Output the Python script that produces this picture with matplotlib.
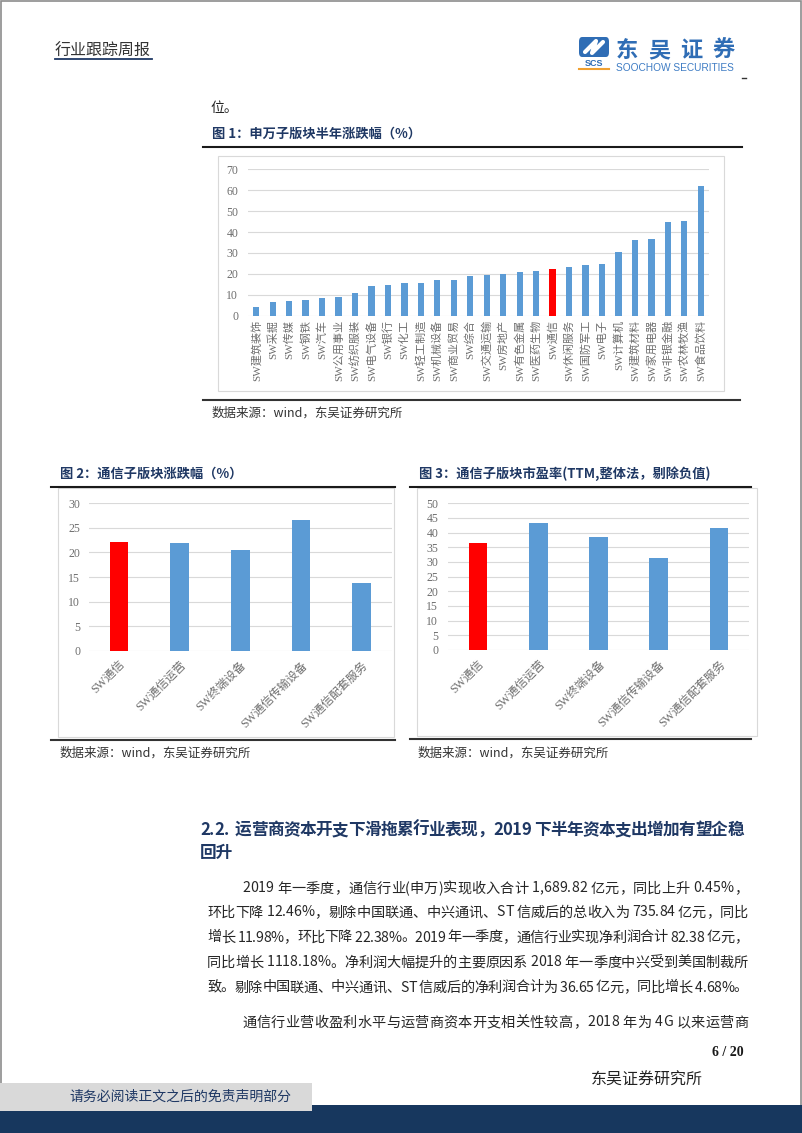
import matplotlib
matplotlib.use("Agg")
import matplotlib.pyplot as plt
from matplotlib.patches import Rectangle, FancyBboxPatch
from matplotlib.lines import Line2D
from matplotlib import font_manager
from matplotlib.font_manager import FontProperties
import matplotlib.ft2font as ft

# ---------------- data ----------------
fig1_categories = ["SW建筑装饰", "SW采掘", "SW传媒", "SW钢铁", "SW汽车", "SW公用事业", "SW纺织服装",
                   "SW电气设备", "SW银行", "SW化工", "SW轻工制造", "SW机械设备", "SW商业贸易", "SW综合",
                   "SW交通运输", "SW房地产", "SW有色金属", "SW医药生物", "SW通信", "SW休闲服务",
                   "SW国防军工", "SW电子", "SW计算机", "SW建筑材料", "SW家用电器", "SW非银金融",
                   "SW农林牧渔", "SW食品饮料"]
fig1_values = [4.0, 6.5, 7.2, 7.7, 8.5, 8.9, 10.8, 14.0, 14.8, 15.5, 15.5, 17.2, 17.2, 19.1,
               19.3, 19.9, 20.9, 21.4, 22.2, 23.1, 24.1, 24.7, 30.6, 36.2, 36.5, 44.8, 45.3, 62.0]
fig1_yticks = [0, 10, 20, 30, 40, 50, 60, 70]

sub_categories = ["SW通信", "SW通信运营", "SW终端设备", "SW通信传输设备", "SW通信配套服务"]
fig2_values = [22.1, 21.9, 20.4, 26.5, 13.8]
fig2_yticks = [0, 5, 10, 15, 20, 25, 30]
fig3_values = [36.3, 43.4, 38.5, 31.5, 41.7]
fig3_yticks = [0, 5, 10, 15, 20, 25, 30, 35, 40, 45, 50]
highlight = "SW通信"

BLUE = "#5B9BD5"
RED = "#FF0000"
NAVY = "#1F3864"
BAND = "#17375E"
GRID = "#D9D9D9"
TICK = "#6E6E6E"
TXT = "#262626"

W, H = 802, 1133
fig = plt.figure(figsize=(W / 100, H / 100), dpi=100)
fig.patch.set_facecolor("white")

CJK = "Noto Sans CJK SC"
TICKFAM = ["Liberation Serif", CJK]


def fx(x):
    return x / W


def fy(y):
    return 1 - y / H


def hline(x0, x1, y, color="#1a1a1a", lw=1.5):
    fig.add_artist(Line2D([fx(x0), fx(x1)], [fy(y), fy(y)], color=color, lw=lw,
                          transform=fig.transFigure))


def box(x0, y0, x1, y1, ec=GRID, fc="none", lw=0.8, z=0):
    fig.add_artist(Rectangle((fx(x0), fy(y1)), (x1 - x0) / W, (y1 - y0) / H,
                             transform=fig.transFigure, ec=ec, fc=fc, lw=lw, zorder=z))


def text(x, y, s, fs, **kw):
    kw.setdefault("family", CJK)
    kw.setdefault("va", "center")
    kw.setdefault("color", TXT)
    return fig.text(fx(x), fy(y), s, fontsize=fs, **kw)


# justified text helper (character advances from the font)
try:
    _NOHINT = ft.LoadFlags.NO_HINTING
except Exception:
    _NOHINT = ft.LOAD_NO_HINTING


def advances(s, fs, weight="normal"):
    path = font_manager.findfont(FontProperties(family=CJK, weight=weight))
    f = ft.FT2Font(path)
    f.set_size(fs, 72)
    out = []
    for ch in s:
        g = f.load_char(ord(ch), flags=_NOHINT)
        out.append(g.linearHoriAdvance / 65536.0 * 100 / 72)
    return out


def jtext(s, x0, x1, y, fs, weight="normal", color=TXT):
    adv = advances(s, fs, weight)
    total = sum(adv)
    n = len(s)
    extra = (x1 - x0 - total) / max(n - 1, 1)
    x = x0
    for ch, a in zip(s, adv):
        if ch != " ":
            fig.text(fx(x), fy(y), ch, fontsize=fs, family=CJK, weight=weight,
                     color=color, ha="left", va="center_baseline")
        x += a + extra


# ---------------- page border ----------------
box(0.5, 0.5, W - 1, H - 1, ec="#8c8c8c", lw=1.2, z=-5)

# ---------------- header ----------------
text(55, 51, "行业跟踪周报", 11.5, color="#333333")
hline(55, 152, 58.5, color=NAVY, lw=1.3)

# logo
fig.add_artist(FancyBboxPatch((fx(579), fy(57)), 30 / W, 20 / H,
                              boxstyle="round,pad=0,rounding_size=0.004",
                              transform=fig.transFigure, fc="#2F6DB5", ec="none"))
fig.add_artist(Line2D([fx(585), fx(596), fx(592), fx(603)], [fy(52), fy(41), fy(53), fy(42)],
                      color="white", lw=3, transform=fig.transFigure, solid_capstyle="round"))
text(594, 63, "SCS", 6.5, family="Liberation Sans", weight="bold", color="#2F6DB5", ha="center")
hline(579, 609, 68.5, color="#F0A030", lw=1.5)
jtext("东吴证券", 616, 735, 48, 16, weight="bold", color="#2F6DB5")
text(675, 68, "SOOCHOW SECURITIES", 7.3, family="Liberation Sans", color="#3E7CC4", ha="center")
hline(742, 746, 77.5, color="#333333", lw=1)

text(210, 108, "位。", 10)

# ---------------- figure 1 ----------------
text(212, 134, "图 1：申万子版块半年涨跌幅（%）", 9.5, weight="bold", color=NAVY)
hline(203, 742, 147)
box(218, 156, 724, 391)
hline(203, 740, 400, color="#333333", lw=1.5)
text(212, 413, "数据来源：wind，东吴证券研究所", 9, color="#333333")


def make_axes(l, r, t, b):
    return fig.add_axes([fx(l), fy(b), (r - l) / W, (b - t) / H])


def style(ax, yticks, ypad):
    ax.set_ylim(yticks[0], yticks[-1])
    ax.set_yticks(yticks)
    ax.grid(axis="y", color=GRID, lw=0.8)
    ax.set_axisbelow(True)
    for sp in ax.spines.values():
        sp.set_visible(False)
    ax.tick_params(axis="both", length=0, colors=TICK)
    ax.tick_params(axis="y", pad=ypad, labelsize=8.5)
    for lab in ax.get_yticklabels():
        lab.set_family(TICKFAM)
    ax.set_facecolor("none")


ax1 = make_axes(248, 709, 169.3, 315.7)
x1 = list(range(len(fig1_categories)))
cols1 = [RED if c == highlight else BLUE for c in fig1_categories]
ax1.bar(x1, fig1_values, width=0.38, color=cols1, zorder=3)
ax1.set_xlim(-0.5, len(x1) - 0.5)
style(ax1, fig1_yticks, 7)
ax1.set_xticks(x1)
ax1.set_xticklabels(fig1_categories, rotation=90, fontsize=8, family=TICKFAM, color=TICK,
                    ha="center", va="top")
ax1.tick_params(axis="x", pad=3)

# ---------------- figure 2 ----------------
text(60, 474, "图 2：通信子版块涨跌幅（%）", 9.5, weight="bold", color=NAVY)
hline(51, 395, 487)
box(58, 488, 394, 737)
hline(51, 395, 740, color="#333333", lw=1.5)
text(60, 753, "数据来源：wind，东吴证券研究所", 9, color="#333333")

ax2 = make_axes(88.6, 392, 503.3, 650.7)
x2 = list(range(len(sub_categories)))
cols2 = [RED if c == highlight else BLUE for c in sub_categories]
ax2.bar(x2, fig2_values, width=0.31, color=cols2, zorder=3)
ax2.set_xlim(-0.5, len(x2) - 0.5)
style(ax2, fig2_yticks, 6)
ax2.set_xticks(x2)
ax2.set_xticklabels(sub_categories, rotation=45, fontsize=8.5, family=TICKFAM, color=TICK,
                    ha="right", va="top", rotation_mode="anchor")
ax2.tick_params(axis="x", pad=6)

# ---------------- figure 3 ----------------
text(419, 474, "图 3：通信子版块市盈率(TTM,整体法，剔除负值)", 9.5, weight="bold", color=NAVY)
hline(410, 751, 487)
box(417, 488, 757, 736)
hline(410, 751, 739, color="#333333", lw=1.5)
text(418, 753, "数据来源：wind，东吴证券研究所", 9, color="#333333")

ax3 = make_axes(448, 749, 503.3, 650)
x3 = list(range(len(sub_categories)))
ax3.bar(x3, fig3_values, width=0.31, color=cols2, zorder=3)
ax3.set_xlim(-0.5, len(x3) - 0.5)
style(ax3, fig3_yticks, 7)
ax3.set_xticks(x3)
ax3.set_xticklabels(sub_categories, rotation=45, fontsize=8.5, family=TICKFAM, color=TICK,
                    ha="right", va="top", rotation_mode="anchor")
ax3.tick_params(axis="x", pad=6)

# ---------------- body text ----------------
jtext("2.2.  运营商资本开支下滑拖累行业表现，2019 下半年资本支出增加有望企稳", 200, 744, 828, 12,
      weight="bold", color=NAVY)
text(200, 853, "回升", 12, weight="bold", color=NAVY)

body = [
    (242, "2019 年一季度，通信行业(申万)实现收入合计 1,689.82 亿元，同比上升 0.45%，", 887),
    (207, "环比下降 12.46%，剔除中国联通、中兴通讯、ST 信威后的总收入为 735.84 亿元，同比", 911),
    (207, "增长 11.98%，环比下降 22.38%。2019 年一季度，通信行业实现净利润合计 82.38 亿元，", 936),
    (207, "同比增长 1118.18%。净利润大幅提升的主要原因系 2018 年一季度中兴受到美国制裁所", 961),
    (207, "致。剔除中国联通、中兴通讯、ST 信威后的净利润合计为 36.65 亿元，同比增长 4.68%。", 986),
    (242, "通信行业营收盈利水平与运营商资本开支相关性较高，2018 年为 4G 以来运营商", 1021),
]
for x0, s, y in body:
    jtext(s, x0, 748, y, 10.2)

# ---------------- footer ----------------
text(744, 1053, "6 / 20", 10, family="Liberation Serif", weight="bold", color="#1a1a1a", ha="right")
text(591, 1080, "东吴证券研究所", 11.5, color="#222222")
box(0, 1105, W, H, ec="none", fc=BAND, z=1)
box(0, 1083, 312, 1111, ec="none", fc="#D9D9D9", z=2)
text(69, 1097, "请务必阅读正文之后的免责声明部分", 10, color=NAVY, zorder=3)

fig.savefig("out.png", dpi=100)
